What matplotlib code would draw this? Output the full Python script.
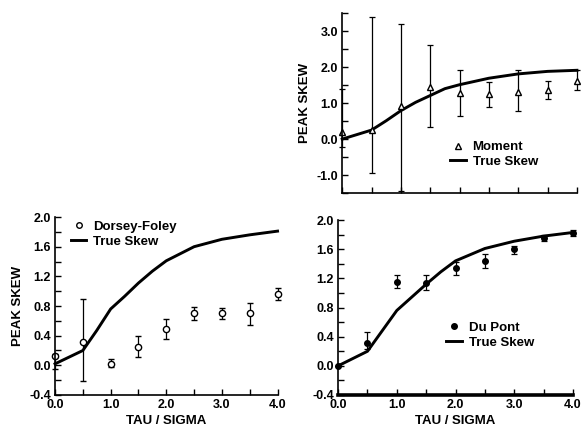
import matplotlib
matplotlib.use("Agg")
import matplotlib.pyplot as plt
from matplotlib.lines import Line2D
import numpy as np

plt.rcParams['font.family'] = ['Liberation Sans', 'DejaVu Sans']
plt.rcParams['font.weight'] = 'bold'

# ---------------- data ----------------
tau = [0.0, 0.5, 1.0, 1.5, 2.0, 2.5, 3.0, 3.5, 4.0]

# Top panel: Moment
moment = [0.19, 0.25, 0.91, 1.44, 1.27, 1.26, 1.32, 1.35, 1.60]
moment_hi = [1.40, 3.40, 3.20, 2.60, 1.93, 1.58, 1.91, 1.60, 1.91]
moment_lo = [-0.22, -0.93, -1.44, 0.33, 0.63, 0.88, 0.79, 1.10, 1.35]
true_x_top = [0.0, 0.5, 0.75, 1.0, 1.25, 1.5, 1.75, 2.0, 2.5, 3.0, 3.5, 4.0]
true_top = [0.0, 0.25, 0.51, 0.79, 1.02, 1.21, 1.40, 1.51, 1.69, 1.81, 1.88, 1.91]

# Bottom-left: Dorsey-Foley
dorsey = [0.12, 0.32, 0.02, 0.25, 0.49, 0.70, 0.70, 0.70, 0.96]
dorsey_hi = [0.15, 0.89, 0.08, 0.40, 0.62, 0.79, 0.77, 0.84, 1.04]
dorsey_lo = [-0.05, -0.21, -0.02, 0.11, 0.36, 0.61, 0.62, 0.55, 0.88]

# Bottom-right: Du Pont
dupont = [0.0, 0.32, 1.15, 1.13, 1.34, 1.44, 1.60, 1.76, 1.82]
dupont_hi = [0.0, 0.46, 1.24, 1.25, 1.42, 1.53, 1.64, 1.80, 1.86]
dupont_lo = [0.0, 0.23, 1.07, 1.04, 1.25, 1.34, 1.54, 1.71, 1.78]

true_x_bot = [0.0, 0.5, 0.75, 1.0, 1.25, 1.5, 1.75, 2.0, 2.5, 3.0, 3.5, 4.0]
true_bot_left = [0.02, 0.20, 0.47, 0.76, 0.93, 1.11, 1.27, 1.41, 1.60, 1.70, 1.76, 1.81]
true_bot_right = [0.0, 0.20, 0.48, 0.76, 0.94, 1.12, 1.29, 1.44, 1.61, 1.71, 1.78, 1.83]

x_ticks = [0.0, 0.5, 1.0, 1.5, 2.0, 2.5, 3.0, 3.5, 4.0]
x_labels = ['0.0', '', '1.0', '', '2.0', '', '3.0', '', '4.0']

FS = 9
LFS = 9.5

fig = plt.figure(figsize=(5.81, 4.34), dpi=100)

def style(ax, lw_bottom=1.2):
    for s in ['top', 'right']:
        ax.spines[s].set_visible(False)
    ax.spines['left'].set_linewidth(1.2)
    ax.spines['bottom'].set_linewidth(lw_bottom)
    ax.tick_params(direction='in', length=4, width=1.0, labelsize=FS, pad=3)
    for lab in ax.get_xticklabels() + ax.get_yticklabels():
        lab.set_fontweight('bold')

def errs(v, hi, lo):
    v = np.array(v); return [v - np.array(lo), np.array(hi) - v]

def legend(ax, anchor, marker, mfc, ms, label):
    handles = [Line2D([], [], ls='none', marker=marker, mfc=mfc, mec='black', ms=ms, mew=1.0),
               Line2D([], [], color='black', lw=2.1)]
    ax.legend(handles, [label, 'True Skew'], loc='upper left', bbox_to_anchor=anchor,
              frameon=False, handlelength=1.2, handletextpad=0.5, labelspacing=0.2,
              borderaxespad=0, borderpad=0, prop={'weight': 'bold', 'size': LFS})

# ---- top right ----
ax1 = fig.add_axes([0.589, 0.555, 0.404, 0.415])
ax1.plot(true_x_top, true_top, color='black', lw=2.1, clip_on=False)
ax1.errorbar(tau, moment, yerr=errs(moment, moment_hi, moment_lo), fmt='^', mfc='white',
             mec='black', ms=4.5, ecolor='black', elinewidth=0.9, capsize=2.5, capthick=0.9,
             color='black', clip_on=False)
ax1.set_xlim(0, 4.0)
ax1.set_ylim(-1.5, 3.5)
ax1.set_xticks(x_ticks)
ax1.set_xticklabels([''] * 9)
ax1.set_yticks(np.arange(-1.5, 3.51, 0.5))
ax1.set_yticklabels(['' if abs(t - round(t)) > 1e-6 else f'{t:.1f}' for t in np.arange(-1.5, 3.51, 0.5)])
ax1.set_ylabel('PEAK SKEW', fontsize=LFS, fontweight='bold', labelpad=4)
style(ax1)
legend(ax1, (0.46, 0.29), '^', 'white', 4, 'Moment')

# ---- bottom left ----
ax2 = fig.add_axes([0.0947, 0.0899, 0.383, 0.410])
ax2.plot(true_x_bot, true_bot_left, color='black', lw=2.1, clip_on=False)
ax2.errorbar(tau, dorsey, yerr=errs(dorsey, dorsey_hi, dorsey_lo), fmt='o', mfc='white',
             mec='black', ms=4.5, mew=1.0, ecolor='black', elinewidth=0.9, capsize=2.5,
             capthick=0.9, color='black', clip_on=False)
ax2.set_xlim(0, 4.0)
ax2.set_ylim(-0.4, 2.0)
ax2.set_xticks(x_ticks)
ax2.set_xticklabels(x_labels)
yt = np.round(np.arange(-0.4, 2.01, 0.2), 1)
ax2.set_yticks(yt)
ax2.set_yticklabels([f'{t:.1f}' if i % 2 == 0 else '' for i, t in enumerate(yt)])
ax2.set_ylabel('PEAK SKEW', fontsize=LFS, fontweight='bold', labelpad=4)
ax2.set_xlabel('TAU / SIGMA', fontsize=LFS, fontweight='bold', labelpad=3)
style(ax2)
legend(ax2, (0.07, 0.98), 'o', 'white', 4, 'Dorsey-Foley')

# ---- bottom right ----
ax3 = fig.add_axes([0.582, 0.0899, 0.404, 0.403])
ax3.plot(true_x_bot, true_bot_right, color='black', lw=2.1, clip_on=False)
ax3.errorbar(tau, dupont, yerr=errs(dupont, dupont_hi, dupont_lo), fmt='o', mfc='black',
             mec='black', ms=4, ecolor='black', elinewidth=0.9, capsize=2.5, capthick=0.9,
             color='black', clip_on=False)
ax3.set_xlim(0, 4.0)
ax3.set_ylim(-0.4, 2.0)
ax3.set_xticks(x_ticks)
ax3.set_xticklabels(x_labels)
ax3.set_yticks(yt)
ax3.set_yticklabels([f'{t:.1f}' if i % 2 == 0 else '' for i, t in enumerate(yt)])
ax3.set_xlabel('TAU / SIGMA', fontsize=LFS, fontweight='bold', labelpad=3)
style(ax3, lw_bottom=2.6)
legend(ax3, (0.46, 0.42), 'o', 'black', 4, 'Du Pont')

fig.savefig('out.png', dpi=100)
